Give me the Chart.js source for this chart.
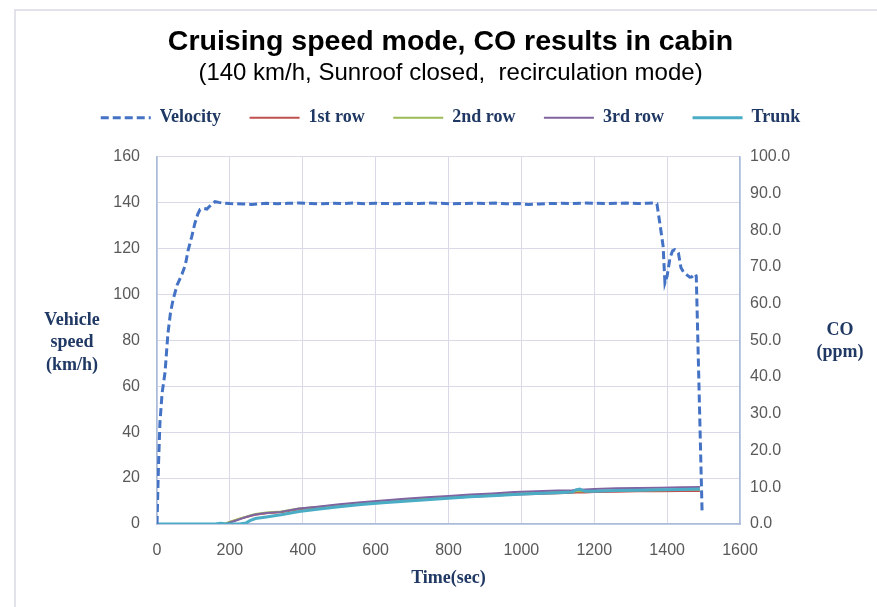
<!DOCTYPE html>
<html>
<head>
<meta charset="utf-8">
<script src="https://cdn.jsdelivr.net/npm/chart.js@4.4.1/dist/chart.umd.min.js"></script>
<style>
  html, body { margin: 0; padding: 0; background: #ffffff; }
  #wrap { width: 877px; height: 607px; position: relative; }
</style>
</head>
<body>
<div id="wrap"><canvas id="c" width="877" height="607"></canvas></div>
<script>
// ---------- DATA ----------
const chartTitle = 'Cruising speed mode, CO results in cabin';
const chartSubtitle = '(140 km/h, Sunroof closed,  recirculation mode)';
const seriesNames = ['Velocity', '1st row', '2nd row', '3rd row', 'Trunk'];
const xAxisTitle = 'Time(sec)';
const leftAxisTitle = ['Vehicle', 'speed', '(km/h)'];
const rightAxisTitle = ['CO', '(ppm)'];

// Velocity (km/h) vs time (sec)
const velTime = [0,4,8,14,22,30,37,44,55,69,78,85,95,104,112,118,128,137,148,159,170,185,200,220,240,260,280,300,330,360,390,420,450,480,510,540,570,600,630,660,690,720,750,780,810,840,870,900,930,960,990,1020,1050,1080,1110,1140,1170,1200,1230,1260,1290,1320,1345,1365,1372,1380,1389,1394,1400,1408,1415,1421,1431,1438,1446,1454,1462,1468,1476,1480,1496];
const velValues = [0,25,44,57,66,83,92,97.6,104,109,113,119,125,131,135,137,137.5,137.2,139,140.4,140.1,139.8,139.6,139.5,139.4,139.2,139.5,139.7,139.5,139.7,139.8,139.6,139.5,139.7,139.6,139.8,139.5,139.7,139.6,139.5,139.7,139.6,139.8,139.7,139.5,139.6,139.7,139.6,139.8,139.5,139.6,139.2,139.4,139.6,139.7,139.6,139.8,139.7,139.6,139.7,139.8,139.6,139.7,139.8,139.5,131,121,105,108,116,119,119.5,118,111.6,109.5,108.5,107.5,107.7,109,108,5];

// CO concentration (ppm) vs time (sec)
const coTime   = [0,100,160,175,190,200,215,230,245,255,270,300,340,390,440,500,560,620,680,740,800,860,920,980,1040,1100,1140,1150,1160,1175,1200,1260,1320,1380,1440,1490];
const coRow1   = [0,0,0,0,0.1,0.5,1.0,1.5,1.9,2.2,2.5,2.9,3.2,4.0,4.5,5.1,5.6,6.0,6.4,6.8,7.1,7.4,7.7,8.0,8.2,8.4,8.5,8.6,8.6,8.6,8.7,8.8,8.9,8.9,9.0,9.0];
const coRow2   = [0,0,0,0,0.2,0.6,1.1,1.6,2.0,2.3,2.7,3.1,3.4,4.2,4.6,5.2,5.7,6.1,6.6,7.0,7.3,7.7,8.0,8.3,8.5,8.7,8.8,8.9,8.9,8.9,9.0,9.1,9.2,9.2,9.3,9.3];
const coRow3   = [0,0,0,0,0.1,0.4,0.9,1.4,1.9,2.2,2.6,3.0,3.3,4.2,4.7,5.4,5.9,6.4,6.9,7.3,7.6,8.0,8.3,8.7,8.9,9.1,9.2,9.3,9.3,9.4,9.5,9.7,9.8,9.9,10.0,10.1];
const coTrunk  = [0,0,0,0.2,0,0,0,0.1,0.3,0.9,1.5,1.9,2.5,3.4,4.0,4.7,5.3,5.8,6.2,6.6,7.0,7.4,7.7,8.0,8.3,8.5,8.7,9.3,9.5,8.9,8.9,9.1,9.2,9.3,9.4,9.5];

// Axis ranges / ticks
const xTicks = [0,200,400,600,800,1000,1200,1400,1600];
const yLeftTicks = [0,20,40,60,80,100,120,140,160];
const yRightTicks = [0,10,20,30,40,50,60,70,80,90,100];

// ---------- helpers ----------
const toPts = (xs, ys) => xs.map((x, i) => ({x: x, y: ys[i]}));

const NAVY = '#1F3864';
const TICK = '#595959';
const GRID = '#D9D9E8';
const AXIS = '#A9BCDA';
const SERIF = '"Liberation Serif", "DejaVu Serif", serif';
const SANS = '"Liberation Sans", Arial, sans-serif';

const spacerPlugin = {
  id: 'spacer',
  beforeInit(chart) {
    const box = {
      position: 'top', weight: 100, fullSize: true, options: {},
      top: 0, left: 0, right: 0, bottom: 0, width: 0, height: 0,
      isHorizontal() { return true; },
      update(maxWidth) { this.width = maxWidth; this.height = 20; },
      draw() {}
    };
    Chart.layouts.addBox(chart, box);
  }
};

const sideTitles = {
  id: 'sideTitles',
  afterDraw(chart) {
    const ctx = chart.ctx;
    ctx.save();
    ctx.strokeStyle = '#D9D9E3';
    ctx.lineWidth = 1.5;
    ctx.beginPath();
    ctx.moveTo(15, 607); ctx.lineTo(15, 10); ctx.lineTo(877, 10);
    ctx.stroke();

    ctx.fillStyle = NAVY;
    ctx.font = 'bold 18px ' + SERIF;
    ctx.textAlign = 'center';
    ctx.textBaseline = 'middle';
    const ly = [320, 342, 365];
    leftAxisTitle.forEach((t, i) => ctx.fillText(t, 72, ly[i]));
    const ry = [330, 352];
    rightAxisTitle.forEach((t, i) => ctx.fillText(t, 840, ry[i]));
    ctx.restore();
  }
};

const datasets = [
  { label: seriesNames[0], data: toPts(velTime, velValues), yAxisID: 'y',
    borderColor: '#4472C4', backgroundColor: '#4472C4', borderWidth: 3,
    borderDash: [8, 4], pointRadius: 0, tension: 0, order: 0 },
  { label: seriesNames[1], data: toPts(coTime, coRow1), yAxisID: 'y1',
    borderColor: '#C0504D', backgroundColor: '#C0504D', borderWidth: 2, pointRadius: 0, order: 4 },
  { label: seriesNames[2], data: toPts(coTime, coRow2), yAxisID: 'y1',
    borderColor: '#9BBB59', backgroundColor: '#9BBB59', borderWidth: 2, pointRadius: 0, order: 3 },
  { label: seriesNames[3], data: toPts(coTime, coRow3), yAxisID: 'y1',
    borderColor: '#8064A2', backgroundColor: '#8064A2', borderWidth: 2, pointRadius: 0, order: 2 },
  { label: seriesNames[4], data: toPts(coTime, coTrunk), yAxisID: 'y1',
    borderColor: '#4BACC6', backgroundColor: '#4BACC6', borderWidth: 3, pointRadius: 0, order: 1 }
];

new Chart(document.getElementById('c'), {
  type: 'line',
  data: { datasets: datasets },
  plugins: [spacerPlugin, sideTitles],
  options: {
    responsive: false,
    animation: false,
    layout: { padding: { left: 24, right: 0, top: 0, bottom: 0 } },
    plugins: {
      tooltip: { enabled: false },
      title: {
        display: true, text: chartTitle, color: '#000000',
        font: { family: SANS, size: 28.5, weight: 'bold', lineHeight: 1.2 },
        padding: { top: 24.9, bottom: 0 }
      },
      subtitle: {
        display: true, text: chartSubtitle, color: '#000000',
        font: { family: SANS, size: 24, weight: 'normal', lineHeight: 0.6 },
        padding: { top: 6.7, bottom: 0 }
      },
      legend: {
        display: true, position: 'top',
        labels: {
          sort: (a, b) => a.datasetIndex - b.datasetIndex,
          usePointStyle: true, pointStyle: 'line', pointStyleWidth: 50,
          padding: 28.5, color: NAVY,
          font: { family: SERIF, size: 18, weight: 'bold' },
          generateLabels: (chart) => {
            const items = Chart.defaults.plugins.legend.labels.generateLabels(chart);
            items.forEach(it => {
              const ds = chart.data.datasets[it.datasetIndex];
              it.lineDash = ds.borderDash || [];
              it.lineWidth = ds.borderWidth;
              it.strokeStyle = ds.borderColor;
              it.lineCap = 'butt';
            });
            return items;
          }
        }
      }
    },
    scales: {
      x: {
        type: 'linear', min: 0, max: 1600,
        afterBuildTicks: (s) => { s.ticks = xTicks.map(v => ({value: v})); },
        afterFit: (s) => { s.height = 83; },
        grid: { color: GRID, drawTicks: false },
        border: { color: AXIS, width: 1.5 },
        ticks: { color: TICK, font: { family: SANS, size: 16 }, padding: 17, maxRotation: 0,
                 callback: (v) => String(v) },
        title: { display: true, text: xAxisTitle, color: NAVY,
                 font: { family: SERIF, size: 18, weight: 'bold' }, padding: { top: 0, bottom: 18 } }
      },
      y: {
        type: 'linear', position: 'left', min: 0, max: 160,
        afterBuildTicks: (s) => { s.ticks = yLeftTicks.map(v => ({value: v})); },
        afterFit: (s) => { s.width = 133; },
        grid: { color: GRID, drawTicks: false },
        border: { color: AXIS, width: 1.5 },
        ticks: { color: TICK, font: { family: SANS, size: 16 }, padding: 17 }
      },
      y1: {
        type: 'linear', position: 'right', min: 0, max: 100,
        afterBuildTicks: (s) => { s.ticks = yRightTicks.map(v => ({value: v})); },
        afterFit: (s) => { s.width = 137; },
        grid: { drawOnChartArea: false, drawTicks: false },
        border: { color: AXIS, width: 1.5 },
        ticks: { color: TICK, font: { family: SANS, size: 16 }, padding: 10,
                 callback: (v) => Number(v).toFixed(1) }
      }
    }
  }
});
</script>
</body>
</html>
